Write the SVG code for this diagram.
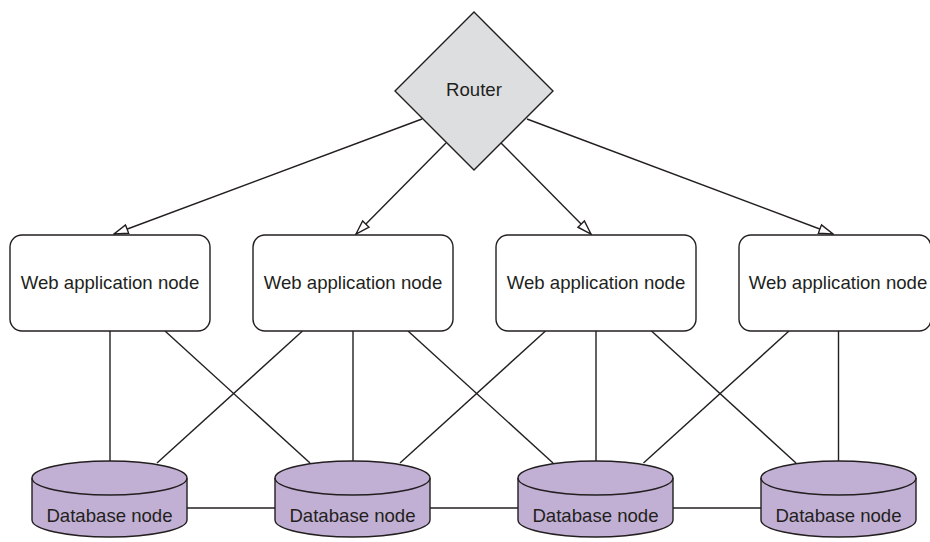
<svg xmlns="http://www.w3.org/2000/svg" width="930" height="542" viewBox="0 0 930 542">
<defs>
<style>
.ln{stroke:#231f20;stroke-width:1.4;fill:none}
.box{fill:#ffffff;stroke:#231f20;stroke-width:1.4}
.dia{fill:#dcdedf;stroke:#231f20;stroke-width:1.4}
.cyl{fill:#c2b0d4;stroke:#231f20;stroke-width:1.4}
.t{font-family:"Liberation Sans",Arial,sans-serif;font-size:18.6px;fill:#231f20;text-anchor:middle}
</style>
<marker id="ah" viewBox="0 0 16 12" refX="15" refY="6" markerWidth="16" markerHeight="12" markerUnits="userSpaceOnUse" orient="auto">
<path d="M1,1.5 L15,6 L1,10.5 Z" fill="#ffffff" stroke="#231f20" stroke-width="1.4"/>
</marker>
</defs>
<rect width="930" height="542" fill="#ffffff"/>
<g id="connectors">
<line class="ln" x1="422" y1="119" x2="114" y2="234" marker-end="url(#ah)"/>
<line class="ln" x1="446" y1="143" x2="356" y2="234" marker-end="url(#ah)"/>
<line class="ln" x1="501" y1="143" x2="591" y2="234" marker-end="url(#ah)"/>
<line class="ln" x1="527" y1="119" x2="833" y2="234" marker-end="url(#ah)"/>
<line class="ln" x1="110" y1="331" x2="110" y2="462"/>
<line class="ln" x1="353" y1="331" x2="353" y2="462"/>
<line class="ln" x1="596" y1="331" x2="596" y2="462"/>
<line class="ln" x1="838.5" y1="331" x2="838.5" y2="462"/>
<line class="ln" x1="165" y1="331" x2="310" y2="463"/>
<line class="ln" x1="302.5" y1="331" x2="157" y2="463"/>
<line class="ln" x1="408" y1="331" x2="553" y2="463"/>
<line class="ln" x1="545.5" y1="331" x2="400" y2="463"/>
<line class="ln" x1="651.5" y1="331" x2="796" y2="463"/>
<line class="ln" x1="789" y1="331" x2="643.5" y2="463"/>
<line class="ln" x1="187" y1="508" x2="275" y2="508"/>
<line class="ln" x1="430" y1="508" x2="518" y2="508"/>
<line class="ln" x1="673" y1="508" x2="761" y2="508"/>
</g>
<g id="router">
<polygon class="dia" points="474,12 553,91 474,170 395,91"/>
<text class="t" x="474" y="96">Router</text>
</g>
<g id="web1">
<rect class="box" x="10" y="235" width="200" height="96" rx="12"/>
<text class="t" x="110" y="289">Web application node</text>
</g>
<g id="web2">
<rect class="box" x="253" y="235" width="200" height="96" rx="12"/>
<text class="t" x="353" y="289">Web application node</text>
</g>
<g id="web3">
<rect class="box" x="496" y="235" width="200" height="96" rx="12"/>
<text class="t" x="596" y="289">Web application node</text>
</g>
<g id="web4">
<rect class="box" x="739" y="235" width="192" height="96" rx="12"/>
<text class="t" x="838" y="289">Web application node</text>
</g>
<g id="db1">
<path class="cyl" d="M32,478 A77.5,17 0 0 1 187,478 L187,520 A77.5,17 0 0 1 32,520 Z"/>
<path class="ln" d="M32,478 A77.5,17 0 0 0 187,478"/>
<text class="t" x="109.5" y="521.5">Database node</text>
</g>
<g id="db2">
<path class="cyl" d="M275,478 A77.5,17 0 0 1 430,478 L430,520 A77.5,17 0 0 1 275,520 Z"/>
<path class="ln" d="M275,478 A77.5,17 0 0 0 430,478"/>
<text class="t" x="352.5" y="521.5">Database node</text>
</g>
<g id="db3">
<path class="cyl" d="M518,478 A77.5,17 0 0 1 673,478 L673,520 A77.5,17 0 0 1 518,520 Z"/>
<path class="ln" d="M518,478 A77.5,17 0 0 0 673,478"/>
<text class="t" x="595.5" y="521.5">Database node</text>
</g>
<g id="db4">
<path class="cyl" d="M761,478 A77.5,17 0 0 1 916,478 L916,520 A77.5,17 0 0 1 761,520 Z"/>
<path class="ln" d="M761,478 A77.5,17 0 0 0 916,478"/>
<text class="t" x="838.5" y="521.5">Database node</text>
</g>
</svg>
